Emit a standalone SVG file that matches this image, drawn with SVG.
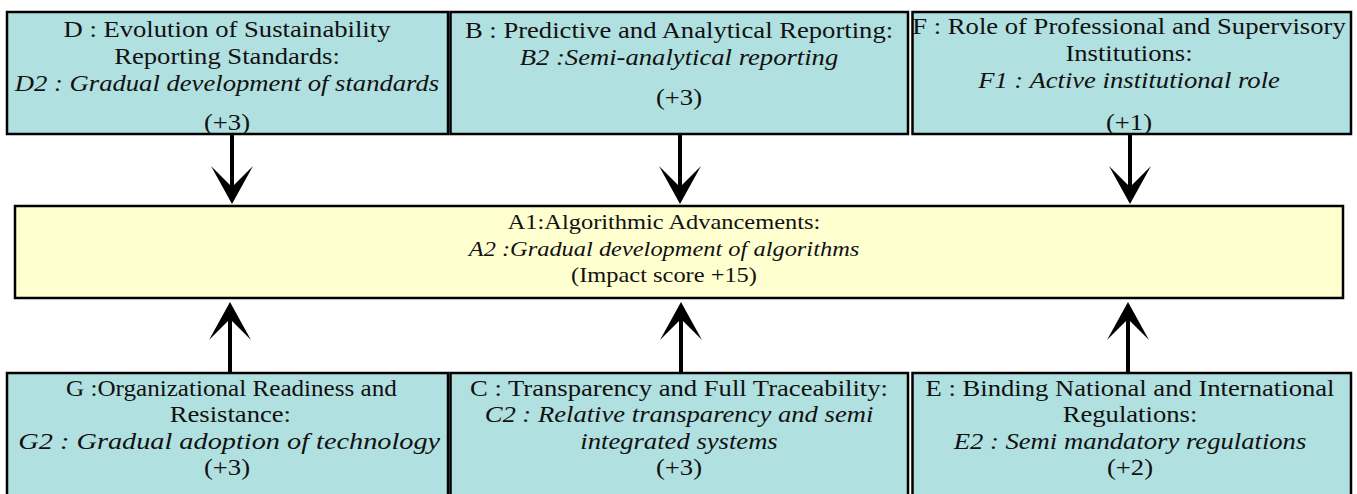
<svg xmlns="http://www.w3.org/2000/svg" width="1357" height="494" viewBox="0 0 1357 494" font-family="Liberation Serif, Times New Roman, serif" font-size="24">
  <style>
    .factor { fill: #b0e0e0; stroke: #000; stroke-width: 2.5; }
    .core { fill: #ffffd0; stroke: #000; stroke-width: 2.5; }
    .label { fill: #111; text-anchor: middle; }
    .em { font-style: italic; }
    .link { stroke: #000; stroke-width: 4; fill: none; marker-end: url(#head); }
  </style>
  <defs>
    <marker id="head" markerUnits="userSpaceOnUse" viewBox="0 -22 40 44" markerWidth="40" markerHeight="44" refX="21" refY="0" orient="auto">
      <path d="M0,-21 L38,0 L0,21 L21,0 Z" fill="#000"/>
    </marker>
  </defs>

  <!-- connectors: six factors feeding the central node -->
  <g id="connectors">
    <line class="link" x1="232" y1="134" x2="232" y2="187"/>
    <line class="link" x1="680" y1="134" x2="680" y2="187"/>
    <line class="link" x1="1130" y1="134" x2="1130" y2="187"/>
    <line class="link" x1="230" y1="373" x2="230" y2="319"/>
    <line class="link" x1="681" y1="373" x2="681" y2="319"/>
    <line class="link" x1="1128" y1="373" x2="1128" y2="319"/>
  </g>

  <g id="node-D">
    <rect class="factor" x="7" y="12" width="441" height="122"/>
    <g class="label" transform="translate(227 0) scale(1.11 1)">
      <text x="0" y="37">D : Evolution of Sustainability</text>
      <text x="0" y="64">Reporting Standards:</text>
      <text class="em" x="0" y="91">D2 : Gradual development of standards</text>
      <text x="0" y="130">(+3)</text>
    </g>
  </g>

  <g id="node-B">
    <rect class="factor" x="450.5" y="12" width="457.5" height="122"/>
    <g class="label" transform="translate(679 0) scale(1.11 1)">
      <text x="0" y="38">B : Predictive and Analytical Reporting:</text>
      <text class="em" x="0" y="65">B2 :Semi-analytical reporting</text>
      <text x="0" y="105">(+3)</text>
    </g>
  </g>

  <g id="node-F">
    <rect class="factor" x="912.5" y="12" width="438.5" height="122"/>
    <g class="label" transform="translate(1129 0) scale(1.11 1)">
      <text x="0" y="34">F : Role of Professional and Supervisory</text>
      <text x="0" y="61">Institutions:</text>
      <text class="em" x="0" y="88">F1 : Active institutional role</text>
      <text x="0" y="130">(+1)</text>
    </g>
  </g>

  <g id="node-A">
    <rect class="core" x="15" y="206" width="1328" height="92"/>
    <g class="label" font-size="22" transform="translate(664 0) scale(1.11 1)">
      <text x="0" y="229">A1:Algorithmic Advancements:</text>
      <text class="em" x="0" y="256">A2 :Gradual development of algorithms</text>
      <text x="0" y="282">(Impact score +15)</text>
    </g>
  </g>

  <g id="node-G">
    <rect class="factor" x="7" y="373" width="441" height="130"/>
    <g class="label" transform="translate(227 0) scale(1.11 1)">
      <text x="4" y="396" textLength="298" lengthAdjust="spacingAndGlyphs">G :Organizational Readiness and</text>
      <text x="3" y="422.5">Resistance:</text>
      <text class="em" x="2" y="449" textLength="380" lengthAdjust="spacingAndGlyphs">G2 : Gradual adoption of technology</text>
      <text x="0" y="475.5">(+3)</text>
    </g>
  </g>

  <g id="node-C">
    <rect class="factor" x="450.5" y="373" width="457.5" height="130"/>
    <g class="label" transform="translate(679 0) scale(1.11 1)">
      <text x="0" y="396">C : Transparency and Full Traceability:</text>
      <text class="em" x="0" y="422.5">C2 : Relative transparency and semi</text>
      <text class="em" x="0" y="449">integrated systems</text>
      <text x="0" y="475.5">(+3)</text>
    </g>
  </g>

  <g id="node-E">
    <rect class="factor" x="912.5" y="373" width="438.5" height="130"/>
    <g class="label" transform="translate(1130 0) scale(1.11 1)">
      <text x="0" y="396">E : Binding National and International</text>
      <text x="0" y="422.5">Regulations:</text>
      <text class="em" x="0" y="449">E2 : Semi mandatory regulations</text>
      <text x="0" y="475.5">(+2)</text>
    </g>
  </g>
</svg>
